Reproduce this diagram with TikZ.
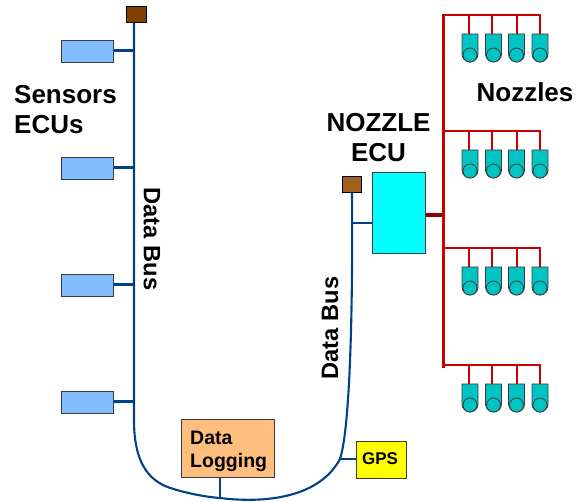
\documentclass[tikz,border=0pt]{standalone}
\usepackage{fontspec}
\setmainfont{Liberation Sans}
\definecolor{busblue}{RGB}{0,66,135}
\definecolor{nozred}{RGB}{200,0,0}
\definecolor{darkred}{RGB}{140,0,0}
\definecolor{sensorblue}{RGB}{130,190,255}
\definecolor{termtop}{RGB}{128,64,0}
\definecolor{termright}{RGB}{160,96,32}
\definecolor{logorange}{RGB}{255,190,125}
\definecolor{nozteal}{RGB}{0,195,195}
\definecolor{ecucyan}{RGB}{0,255,255}
\definecolor{gpsyellow}{RGB}{255,255,0}
\definecolor{edgegrey}{RGB}{60,60,60}
\tikzset{
  box/.style={draw=edgegrey,line width=1pt,inner sep=0pt,minimum width=#1},
  label/.style={font=\bfseries,text=black,inner sep=0pt},
  busline/.style={draw=busblue,line width=2.1pt},
  redline/.style={draw=nozred,line width=2.6pt},
}
\begin{document}
\begin{tikzpicture}[x=1pt,y=-1pt]
\useasboundingbox (0,0) rectangle (576,502);
% sensors and terminators
\foreach \n/\y in {1/51.5,2/168.5,3/285.5,4/402.5}{
  \node[box=52pt,fill=sensorblue,minimum height=22pt] (s\n) at (87,\y) {};
  \coordinate (j\n) at (134,\y-1);
}
\node[box=20pt,fill=termtop,draw=black,minimum height=16pt] (t1) at (136,15) {};
\node[box=19pt,fill=termright,draw=black,minimum height=16pt] (t2) at (351.5,185) {};
\node[box=53pt,fill=ecucyan,minimum height=81pt] (ecu) at (398.5,213.5) {};
\node[box=93pt,fill=logorange,minimum height=58pt] (log) at (227.5,449) {};
\node[box=50pt,fill=gpsyellow,minimum height=37pt] (gps) at (381,460.5) {};
% bus
\coordinate (b1) at (134,23);
\coordinate (b2) at (352,193);
\coordinate (jlog) at (220,498);
\coordinate (jgps) at (340,459);
\coordinate (jecu) at (352,223);
\draw[busline] (b1) -- (134,420)
  .. controls (134,462) and (148,478) .. (165,486)
  .. controls (180,492) and (205,497) .. (jlog)
  .. controls (260,503) and (318,500) .. (jgps)
  .. controls (349,432) and (353,330) .. (b2);
\foreach \n in {1,2,3,4}{ \draw[busline] (s\n.east |- j\n) -- (j\n); }
\draw[busline] (log.south -| jlog) -- (jlog);
\draw[busline] (gps.west |- jgps) -- (jgps);
\draw[busline] (jecu) -- (ecu.west |- jecu);
% red tree
\coordinate (r0) at (443,14);
\coordinate (r9) at (443,368);
\draw[redline,line width=3pt] (r0) -- (r9);
\coordinate (jred) at (443,215);
\draw[draw=darkred,line width=3.2pt] (ecu.east |- jred) -- (jred);
\foreach \r/\y in {1/15,2/131,3/248,4/365}{
  \coordinate (rr\r) at (443,\y);
  \draw[redline] (rr\r) -- (541,\y);
  \foreach \c/\x/\sx in {1/470/469,2/493.5/492,3/516.5/517,4/540/540}{
    \path[draw=edgegrey,fill=nozteal,line width=0.8pt]
      (\x-8,\y+19) -- (\x+8,\y+19) -- (\x+8,\y+39) arc[start angle=0,end angle=180,radius=8] -- cycle;
    \node[circle,draw=edgegrey,fill=nozteal,line width=0.8pt,minimum size=14pt,inner sep=0pt] (n\r\c) at (\x,\y+40) {};
    \draw[redline,line width=2pt] (\sx,\y) -- (\sx,\y+19);
  }
}
% labels
\node[label,font=\bfseries\fontsize{26}{30}\selectfont,align=left,anchor=north west] at (14,85) {Sensors\\ECUs};
\node[label,font=\bfseries\fontsize{23.7}{24}\selectfont,rotate=-90] at (152,239) {Data Bus};
\node[label,font=\bfseries\fontsize{23.7}{24}\selectfont,rotate=90] at (330,328) {Data Bus};
\node[label,font=\bfseries\fontsize{26}{30}\selectfont,align=center] at (378.5,138) {NOZZLE\\ECU};
\node[label,font=\bfseries\fontsize{26}{30}\selectfont] at (525,92) {Nozzles};
\node[label,font=\bfseries\fontsize{19.5}{23}\selectfont,align=left,anchor=west] at (190,451) {Data\\Logging};
\node[label,font=\bfseries\fontsize{17}{20}\selectfont] at (380,459) {GPS};
\end{tikzpicture}
\end{document}
